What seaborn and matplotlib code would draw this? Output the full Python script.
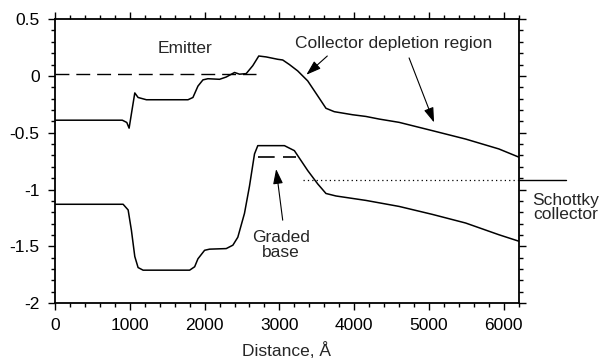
import matplotlib
matplotlib.use("Agg")
import matplotlib.pyplot as plt
import seaborn as sns
import pandas as pd
from matplotlib.ticker import MultipleLocator

# Upper band edge (Å, eV)
upper_x = [0, 900, 960, 991, 1030, 1067, 1111, 1222, 1500, 1778, 1844, 1911, 1978, 2044,
           2200, 2289, 2400, 2467, 2556, 2644, 2724, 2822, 2978, 3044, 3133, 3244, 3378,
           3511, 3622, 3733, 3978, 4156, 4333, 4600, 5044, 5489, 5933, 6200]
upper_y = [-0.39, -0.39, -0.41, -0.46, -0.30, -0.15, -0.19, -0.21, -0.21, -0.21, -0.19, -0.09,
           -0.035, -0.025, -0.03, -0.01, 0.03, 0.015, 0.02, 0.09, 0.175, 0.167, 0.146, 0.14,
           0.10, 0.044, -0.044, -0.175, -0.285, -0.315, -0.342, -0.357, -0.38, -0.409, -0.482,
           -0.556, -0.643, -0.715]

# Lower band edge (Å, eV)
lower_x = [0, 911, 978, 1022, 1067, 1111, 1178, 1500, 1800, 1867, 1911, 2000, 2067, 2289,
           2378, 2444, 2533, 2600, 2667, 2711, 3067, 3200, 3378, 3511, 3622, 3756, 4156,
           4600, 5044, 5489, 5933, 6200]
lower_y = [-1.13, -1.13, -1.18, -1.36, -1.59, -1.687, -1.71, -1.71, -1.71, -1.68, -1.61,
           -1.535, -1.525, -1.52, -1.49, -1.42, -1.21, -0.97, -0.687, -0.614, -0.614, -0.658,
           -0.833, -0.95, -1.035, -1.057, -1.096, -1.149, -1.219, -1.295, -1.398, -1.455]

# Reference levels
fermi_emitter_x = [0, 2690]
fermi_emitter_y = [0.02, 0.02]
fermi_base_x = [2711, 3222]
fermi_base_y = [-0.71, -0.71]
schottky_x = [3311, 6200]
schottky_y = [-0.915, -0.915]
schottky_ext_x = [6200, 6830]

sns.set_style("ticks")
plt.rcParams['font.family'] = ['Liberation Sans', 'DejaVu Sans']
FS = 12.5

fig = plt.figure(figsize=(6.04, 3.6), dpi=100)
ax = fig.add_axes([0.091, 0.158, 0.768, 0.789])

df_u = pd.DataFrame({"x": upper_x, "y": upper_y})
df_l = pd.DataFrame({"x": lower_x, "y": lower_y})
sns.lineplot(data=df_u, x="x", y="y", ax=ax, color="black", lw=1.1, sort=False)
sns.lineplot(data=df_l, x="x", y="y", ax=ax, color="black", lw=1.1, sort=False)

ax.plot(fermi_emitter_x, fermi_emitter_y, color="black", lw=1.0, ls=(0, (10, 5)))
ax.plot(fermi_base_x, fermi_base_y, color="black", lw=1.2, ls=(0, (10, 5)))
ax.plot(schottky_x, schottky_y, color="black", lw=0.9, ls=(0, (1, 2.5)))
ax.plot(schottky_ext_x, schottky_y, color="black", lw=1.0, clip_on=False)

ax.set_xlim(0, 6200)
ax.set_ylim(-2, 0.5)
ax.xaxis.set_major_locator(MultipleLocator(1000))
ax.xaxis.set_minor_locator(MultipleLocator(200))
ax.yaxis.set_major_locator(MultipleLocator(0.5))
ax.yaxis.set_minor_locator(MultipleLocator(0.1))
ax.set_yticks([0.5, 0, -0.5, -1, -1.5, -2])
ax.set_yticklabels(["0.5", "0", "-0.5", "-1", "-1.5", "-2"])
ax.tick_params(which="both", direction="out", top=True, right=True, labelsize=FS,
               colors="black", width=1.0, pad=6)
ax.tick_params(which="major", length=5)
ax.tick_params(which="minor", length=3)
for s in ax.spines.values():
    s.set_linewidth(1.3)
    s.set_color("black")

ax.set_xlabel("Distance, Å", fontsize=FS, labelpad=6)
ax.set_ylabel("")

ax.text(1733, 0.237, "Emitter", fontsize=FS, ha="center", va="center")
ax.text(4533, 0.283, "Collector depletion region", fontsize=FS, ha="center", va="center")
ax.text(3022, -1.49, "Graded\nbase", fontsize=FS, ha="center", va="center", linespacing=0.95)
ax.text(6820, -1.16, "Schottky\ncollector", fontsize=FS, ha="center", va="center",
        linespacing=0.95, clip_on=False)

arrow = dict(arrowstyle="-|>,head_length=0.9,head_width=0.3", lw=0.8, color="black",
             shrinkA=0, shrinkB=0)
ax.annotate("", xy=(3360, 0.01), xytext=(3640, 0.175), arrowprops=arrow)
ax.annotate("", xy=(5067, -0.41), xytext=(4733, 0.158), arrowprops=arrow)
ax.annotate("", xy=(2956, -0.82), xytext=(3044, -1.27), arrowprops=arrow)

fig.savefig("out.png", dpi=100)
